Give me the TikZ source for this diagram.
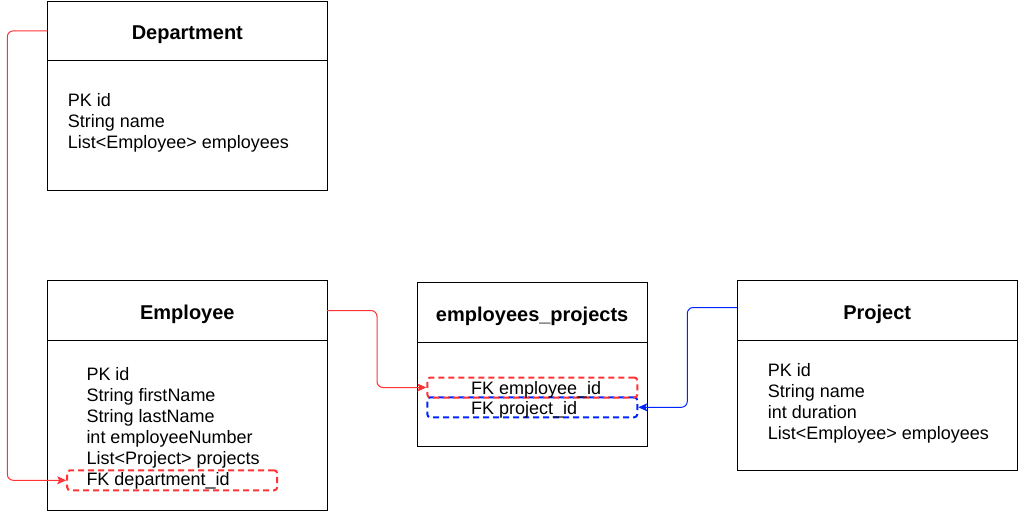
\documentclass[tikz,border=0pt]{standalone}
\usepackage{fontspec}
\setmainfont{Liberation Sans}
\usetikzlibrary{arrows.meta,calc}
\definecolor{cred}{RGB}{255,51,51}
\definecolor{cblue}{RGB}{0,38,255}
\begin{document}
\begin{tikzpicture}[x=1pt,y=-1pt,
  box/.style={draw=black,line width=0.9pt,anchor=north west,inner sep=0pt,outer sep=0pt},
  title/.style={font=\fontsize{20}{24}\selectfont\bfseries,text height=17.5pt,text depth=0pt},
  body/.style={font=\fontsize{18}{21}\selectfont,align=left,inner sep=0pt,anchor=north west},
  fkbox/.style={draw,line width=2pt,dash pattern=on 6pt off 4pt,rounded corners=3pt,inner sep=0pt,minimum width=210pt,minimum height=20pt},
  conn/.style={line width=1pt,rounded corners=6pt,-{Stealth[length=9pt,width=8pt,inset=2pt]}}
]
\useasboundingbox (0,0) rectangle (1018,511);
\fill[white] (0,0) rectangle (1018,511);

% Department
\node[box,title,minimum width=279.3pt,minimum height=59.7pt] (dh) at (47.7,1) {Department};
\node[box,minimum width=279.3pt,minimum height=129.3pt] (db) at (47.7,60.7) {};
\node[body] (dt) at (67.7,92.9) {PK id\\String name\\List<Employee> employees};

% Employee
\node[box,title,minimum width=279.3pt,minimum height=59.6pt] (eh) at (47.7,280.7) {Employee};
\node[box,minimum width=279.3pt,minimum height=169.7pt] (eb) at (47.7,340.3) {};
\node[body] (et) at (86.3,366.9) {PK id\\String firstName\\String lastName\\int employeeNumber\\List<Project> projects\\FK department\_id};
\node[fkbox,draw=cred] (fkd) at (172.2,480.3) {};

% employees_projects
\node[box,title,minimum width=229.7pt,minimum height=59.3pt] (jh) at (417.3,282.7) {employees\_projects};
\node[box,minimum width=229.7pt,minimum height=104.7pt] (jb) at (417.3,342) {};
\node[fkbox,draw=cblue] (fkp) at (532.3,407.3) {};
\node[fkbox,draw=cred] (fke) at (532.3,387.5) {};
\node[body,anchor=base west] (te) at (471,394.5) {FK employee\_id};
\node[body,anchor=base west] (tp) at (471,414.5) {FK project\_id};

% Project
\node[box,title,minimum width=279.7pt,minimum height=59.6pt] (ph) at (737.3,280.7) {Project};
\node[box,minimum width=279.7pt,minimum height=129.7pt] (pb) at (737.3,340.3) {};
\node[body] (pt) at (767.7,362.9) {PK id\\String name\\int duration\\List<Employee> employees};

% connectors
\draw[conn,cred] (dh.west) -- ++(-40.4,0) |- (fkd.west);
\draw[conn,cred] (eh.east) -- ++(50,0) |- (fke.west);
\draw[conn,cblue] ([yshift=3pt]ph.west) -- ++(-50,0) |- (fkp.east);
\end{tikzpicture}
\end{document}
